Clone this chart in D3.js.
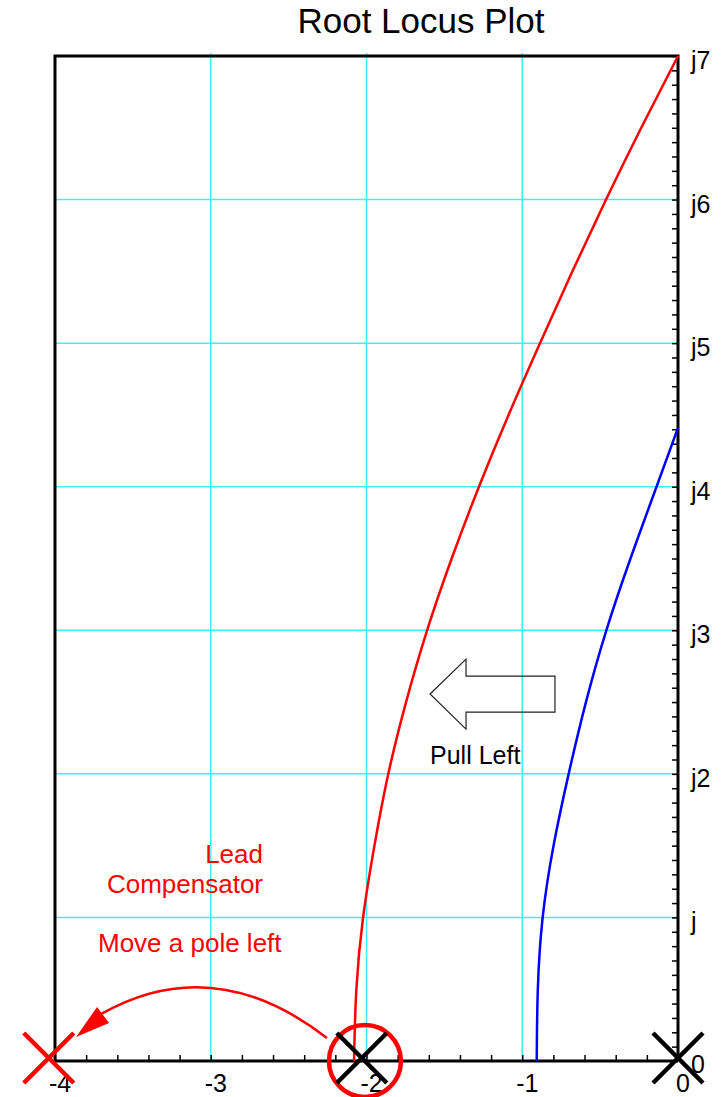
<!DOCTYPE html>
<html>
<head>
<meta charset="utf-8">
<script src="https://cdn.jsdelivr.net/npm/d3@7"></script>
<style>
    body { margin: 0; background: #fff; }
    text { font-family: "Liberation Sans", Arial, sans-serif; }
</style>
</head>
<body>
<div id="graph"></div>
<script>
// DATA
// locus branch running from the breakaway point near -2 up to j7
var redIm = [0, 0.5, 1, 1.5, 2, 2.5, 3, 3.5, 4, 4.5, 5, 5.5, 6, 6.5, 7];
var redRe = [-2.080, -2.065, -2.022, -1.949, -1.860, -1.746, -1.611, -1.453, -1.278, -1.088, -0.886, -0.678, -0.462, -0.236, 0];

// uncompensated branch starting near -0.9
var blueIm = [0, 0.5, 1, 1.5, 2, 2.5, 3, 3.5, 4, 4.41];
var blueRe = [-0.907, -0.900, -0.869, -0.799, -0.702, -0.591, -0.460, -0.305, -0.138, 0];

// poles (marked with X)
var poleRe = [-4.04, -2.03, 0];
var poleColor = ["red", "black", "black"];
var zeroRe = [-2.01]; // circled

var xTicks = [-4, -3, -2, -1, 0];
var xTickLabels = ["-4", "-3", "-2", "-1", "0"];
var yTicks = [0, 1, 2, 3, 4, 5, 6, 7];
var yTickLabels = ["0", "j", "j2", "j3", "j4", "j5", "j6", "j7"];


// SETUP
var svgWidth = 723;
var svgHeight = 1097;
var margins = { top: 56, bottom: 36, left: 55, right: 45 };

var svg = d3.select("#graph")
    .append("svg")
    .attr("width", svgWidth)
    .attr("height", svgHeight);

var x = d3.scaleLinear()
    .domain([-4, 0])
    .range([margins.left, svgWidth - margins.right]);

var y = d3.scaleLinear()
    .domain([0, 7])
    .range([svgHeight - margins.bottom, margins.top]);

var x0 = x(-4), x1 = x(0), y0 = y(0), y1 = y(7);

// Title
svg.append("text")
    .attr("x", 421)
    .attr("y", 33)
    .attr("text-anchor", "middle")
    .attr("font-size", 35)
    .text("Root Locus Plot");

// Grid
svg.append("g")
    .selectAll("line")
    .data([-3, -2, -1])
    .join("line")
    .attr("x1", d => x(d)).attr("x2", d => x(d))
    .attr("y1", y1 - 3).attr("y2", y0)
    .attr("stroke", "#3ef0f0")
    .attr("stroke-width", 1.5);

svg.append("g")
    .selectAll("line")
    .data([1, 2, 3, 4, 5, 6])
    .join("line")
    .attr("x1", x0).attr("x2", x1)
    .attr("y1", d => y(d)).attr("y2", d => y(d))
    .attr("stroke", "#3ef0f0")
    .attr("stroke-width", 1.5);

// Axes - minor ticks
var xMinor = d3.range(-40, 1, 2).map(d => d / 10);
var yMinor = d3.range(0, 71).map(d => d / 10);

svg.append("g")
    .attr("transform", "translate(0," + y0 + ")")
    .call(d3.axisBottom(x).tickValues(xMinor).tickSize(-6).tickFormat(""))
    .call(g => g.select(".domain").remove())
    .call(g => g.selectAll("line").attr("stroke-width", 1.5));

svg.append("g")
    .attr("transform", "translate(" + x1 + ",0)")
    .call(d3.axisRight(y).tickValues(yMinor).tickSize(-6).tickFormat(""))
    .call(g => g.select(".domain").remove())
    .call(g => g.selectAll("line").attr("stroke-width", 1.5));

// Tick labels
svg.append("g")
    .selectAll("text")
    .data(xTicks)
    .join("text")
    .attr("x", d => x(d) + 5)
    .attr("y", y0 + 31)
    .attr("text-anchor", "middle")
    .attr("font-size", 25)
    .text((d, i) => xTickLabels[i]);

svg.append("g")
    .selectAll("text")
    .data(yTicks)
    .join("text")
    .attr("x", x1 + 13)
    .attr("y", d => y(d) + (d == 0 ? 12 : 13))
    .attr("font-size", 25)
    .text((d, i) => yTickLabels[i]);

// Frame
svg.append("path")
    .attr("d", "M" + x1 + "," + y0 + "H" + x0 + "V" + y1 + "H" + x1 + "V" + y0)
    .attr("fill", "none")
    .attr("stroke", "black")
    .attr("stroke-width", 3);

// Locus lines
var line = d3.line()
    .x(d => x(d[0]))
    .y(d => y(d[1]))
    .curve(d3.curveNatural);

svg.append("path")
    .datum(redRe.map((d, i) => [d, redIm[i]]))
    .attr("fill", "none")
    .attr("stroke", "red")
    .attr("stroke-width", 2.5)
    .attr("d", line);

svg.append("path")
    .datum(blueRe.map((d, i) => [d, blueIm[i]]))
    .attr("fill", "none")
    .attr("stroke", "blue")
    .attr("stroke-width", 2.5)
    .attr("d", line);

// Zero circle
svg.append("g")
    .selectAll("circle")
    .data(zeroRe)
    .join("circle")
    .attr("cx", d => x(d))
    .attr("cy", y0)
    .attr("r", 36)
    .attr("fill", "none")
    .attr("stroke", "red")
    .attr("stroke-width", 4.5);

// Pole markers
var s = 25;
svg.append("g")
    .selectAll("path")
    .data(poleRe)
    .join("path")
    .attr("d", d => {
        var cx = x(d), cy = y0 - 3;
        return "M" + (cx - s) + "," + (cy - s) + "L" + (cx + s) + "," + (cy + s) +
            "M" + (cx + s) + "," + (cy - s) + "L" + (cx - s) + "," + (cy + s);
    })
    .attr("stroke", (d, i) => poleColor[i])
    .attr("stroke-width", 4.5)
    .attr("fill", "none");

// Curved arrow: move a pole left
var arc = d3.path();
arc.moveTo(x(-2.254), y(0.160));
arc.quadraticCurveTo(x(-2.98), y(0.77), x(-3.70), y(0.33));
svg.append("path")
    .attr("d", arc.toString())
    .attr("fill", "none")
    .attr("stroke", "red")
    .attr("stroke-width", 2.5);

svg.append("polygon")
    .attr("points", [[-3.865, 0.167], [-3.730, 0.376], [-3.653, 0.265]]
        .map(p => x(p[0]) + "," + y(p[1])).join(" "))
    .attr("fill", "red");

// Pull Left block arrow
var block = [[-1.592, 2.556], [-1.361, 2.799], [-1.361, 2.681], [-0.790, 2.681],
    [-0.790, 2.430], [-1.361, 2.430], [-1.361, 2.312]];
svg.append("polygon")
    .attr("points", block.map(p => x(p[0]) + "," + y(p[1])).join(" "))
    .attr("fill", "none")
    .attr("stroke", "#222")
    .attr("stroke-width", 1.2);

// Labels
svg.append("text")
    .attr("x", 430).attr("y", 764)
    .attr("font-size", 25)
    .text("Pull Left");

svg.append("text")
    .attr("x", 263).attr("y", 863)
    .attr("text-anchor", "end")
    .attr("font-size", 26)
    .attr("fill", "red")
    .text("Lead");

svg.append("text")
    .attr("x", 263).attr("y", 893)
    .attr("text-anchor", "end")
    .attr("font-size", 26)
    .attr("fill", "red")
    .text("Compensator");

svg.append("text")
    .attr("x", 98).attr("y", 952)
    .attr("font-size", 26)
    .attr("fill", "red")
    .text("Move a pole left");
</script>
</body>
</html>
